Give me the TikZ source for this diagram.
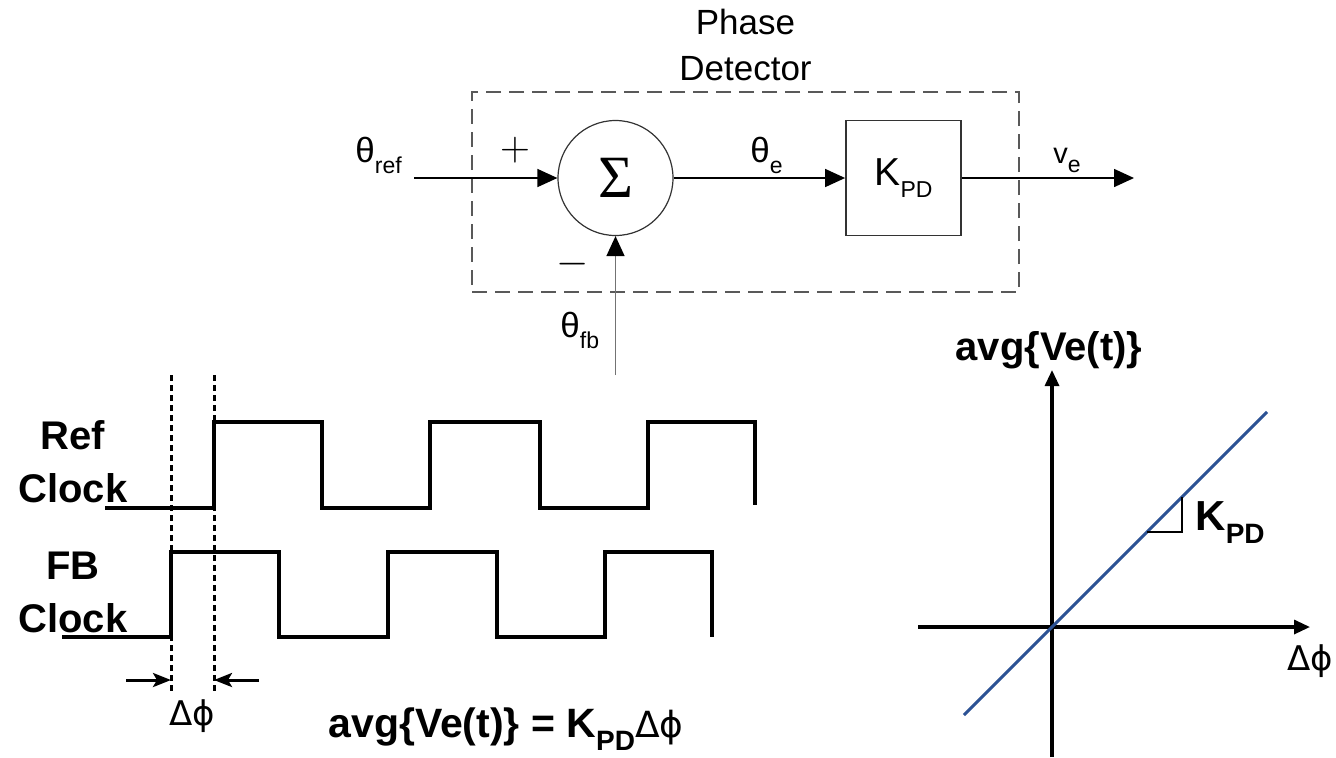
\documentclass[tikz,border=0pt]{standalone}
\usepackage{fontspec}
\setmainfont{Liberation Sans}
\newfontfamily\greekfont{DejaVu Sans}
\newfontfamily\sigmafont{Liberation Serif}
\usepackage{xcolor}
\usetikzlibrary{arrows.meta,positioning}

\definecolor{slopeblue}{RGB}{44,82,148}
\newcommand{\dnsub}[2][11.5]{\raisebox{-0.32em}{\fontsize{#1}{#1}\selectfont #2}}

\begin{document}
\begin{tikzpicture}[
    x=0.5pt,
    y=-0.5pt,
    font=\fontsize{17.5}{23}\selectfont,
    sumnode/.style={
        circle,
        draw=black!80,
        line width=0.6pt,
        minimum size=57.5pt,
        inner sep=0pt
    },
    gainnode/.style={
        rectangle,
        draw=black!80,
        line width=0.9pt,
        minimum width=57.5pt,
        minimum height=57.5pt,
        inner sep=0pt
    },
    pdframe/.style={
        rectangle,
        draw=black!65,
        line width=0.8pt,
        dash pattern=on 7.5pt off 4pt,
        minimum width=273.5pt,
        minimum height=100pt,
        inner sep=0pt
    },
    sigarrow/.style={-{Triangle[length=10pt,width=9pt,color=black]}, line width=0.75pt},
    wave/.style={line width=1.6pt, line join=miter},
    guide/.style={line width=1.5pt, dash pattern=on 3pt off 2pt},
    dimarrow/.style={-{Stealth[length=9pt,width=7pt,inset=2pt]}, line width=1.5pt},
    axis/.style={-{Triangle[length=8pt,width=7pt]}, line width=1.6pt},
    bigbold/.style={font=\fontsize{20}{26.5}\selectfont\bfseries, align=center, inner sep=0pt},
    lbl/.style={inner sep=0pt}
]

\useasboundingbox (0,0) rectangle (1336,757);

% phase detector block
\node[pdframe] (pd) at (745.5,192) {};
\node[lbl, above=5pt of pd, align=center] (pdtitle) {Phase\\Detector};

\node[sumnode] (sum) at (615.5,178) {\sigmafont\fontsize{30}{30}\selectfont Σ};
\node[gainnode] (kpd) at (903.5,178) {\fontsize{19.5}{19.5}\selectfont K\dnsub{PD}};

\coordinate (refin) at (414,178);
\coordinate (veout) at (1134,178);
\coordinate (fbin) at (615.5,375);

\draw[sigarrow] (refin) -- (sum);
\draw[sigarrow] (sum) -- (kpd);
\draw[sigarrow] (kpd) -- (veout);
\draw[sigarrow, draw=black!55] (fbin) -- (sum);

\node[lbl, anchor=base west] (thref) at (355,162) {θ\dnsub{ref}};
\node[lbl] (plus) at (515,150) {\fontsize{22}{22}\selectfont$+$};
\node[lbl] (minus) at (573,264) {\fontsize{22}{22}\selectfont$-$};
\node[lbl, anchor=base west] (the) at (750,162) {θ\dnsub{e}};
\node[lbl, anchor=base west] (ve) at (1053,163) {\fontsize{14.5}{14.5}\selectfont v\dnsub{e}};
\node[lbl, anchor=base west] (thfb) at (560,337) {θ\dnsub{fb}};

% clock waveforms
\node[bigbold, anchor=south] (refclk) at (73,503) {Ref\\Clock};
\node[bigbold, anchor=south] (fbclk) at (73,633) {FB\\Clock};

\draw[wave] (105,508) -| (214,422) -| (322,508) -| (430,422) -| (540,508) -| (648,422) -| (755,505);
\draw[wave] (62,637) -| (171,552) -| (279,637) -| (388,552) -| (497,637) -| (605,552) -| (712,637);

\coordinate (g1top) at (171,375);
\coordinate (g1bot) at (171,693);
\coordinate (g2top) at (214,375);
\coordinate (g2bot) at (214,693);
\draw[guide] (g1top) -- (g1bot);
\draw[guide] (g2top) -- (g2bot);

\coordinate (g1mid) at (171,680);
\coordinate (g2mid) at (214,680);
\coordinate (la) at (126,680);
\coordinate (ra) at (259,680);
\draw[dimarrow] (la) -- (g1mid);
\draw[dimarrow] (ra) -- (g2mid);

\node[lbl, anchor=base] (dphi) at (192,725) {\greekfont\fontsize{17}{17}\selectfont Δϕ};
\node[lbl, anchor=base] (eqn) at (506,737)
    {\fontsize{20.5}{20.5}\selectfont\bfseries avg\{Ve(t)\} = K\dnsub[14]{PD}{\mdseries\greekfont\fontsize{18}{18}\selectfont Δϕ}};

% transfer curve
\coordinate (xstart) at (918,627);
\coordinate (xend) at (1310,627);
\coordinate (ystart) at (1052,757);
\coordinate (yend) at (1052,370);
\draw[axis] (xstart) -- (xend);
\draw[axis] (ystart) -- (yend);

\coordinate (lo) at (964,715);
\coordinate (hi) at (1267,412);
\draw[slopeblue, line width=1.5pt] (lo) -- (hi);

\coordinate (t1) at (1147,532);
\coordinate (t2) at (1182,532);
\coordinate (t3) at (1182,497);
\draw[line width=1.1pt] (t1) -- (t2) -- (t3);

\node[bigbold, anchor=base] (ylab) at (1049,360) {avg\{Ve(t)\}};
\node[lbl, anchor=base west] (kslope) at (1195,530) {\fontsize{21}{21}\selectfont\bfseries K\dnsub[14]{PD}};
\node[lbl, anchor=base] (xlab) at (1310,670) {\greekfont\fontsize{17}{17}\selectfont Δϕ};

\end{tikzpicture}
\end{document}
